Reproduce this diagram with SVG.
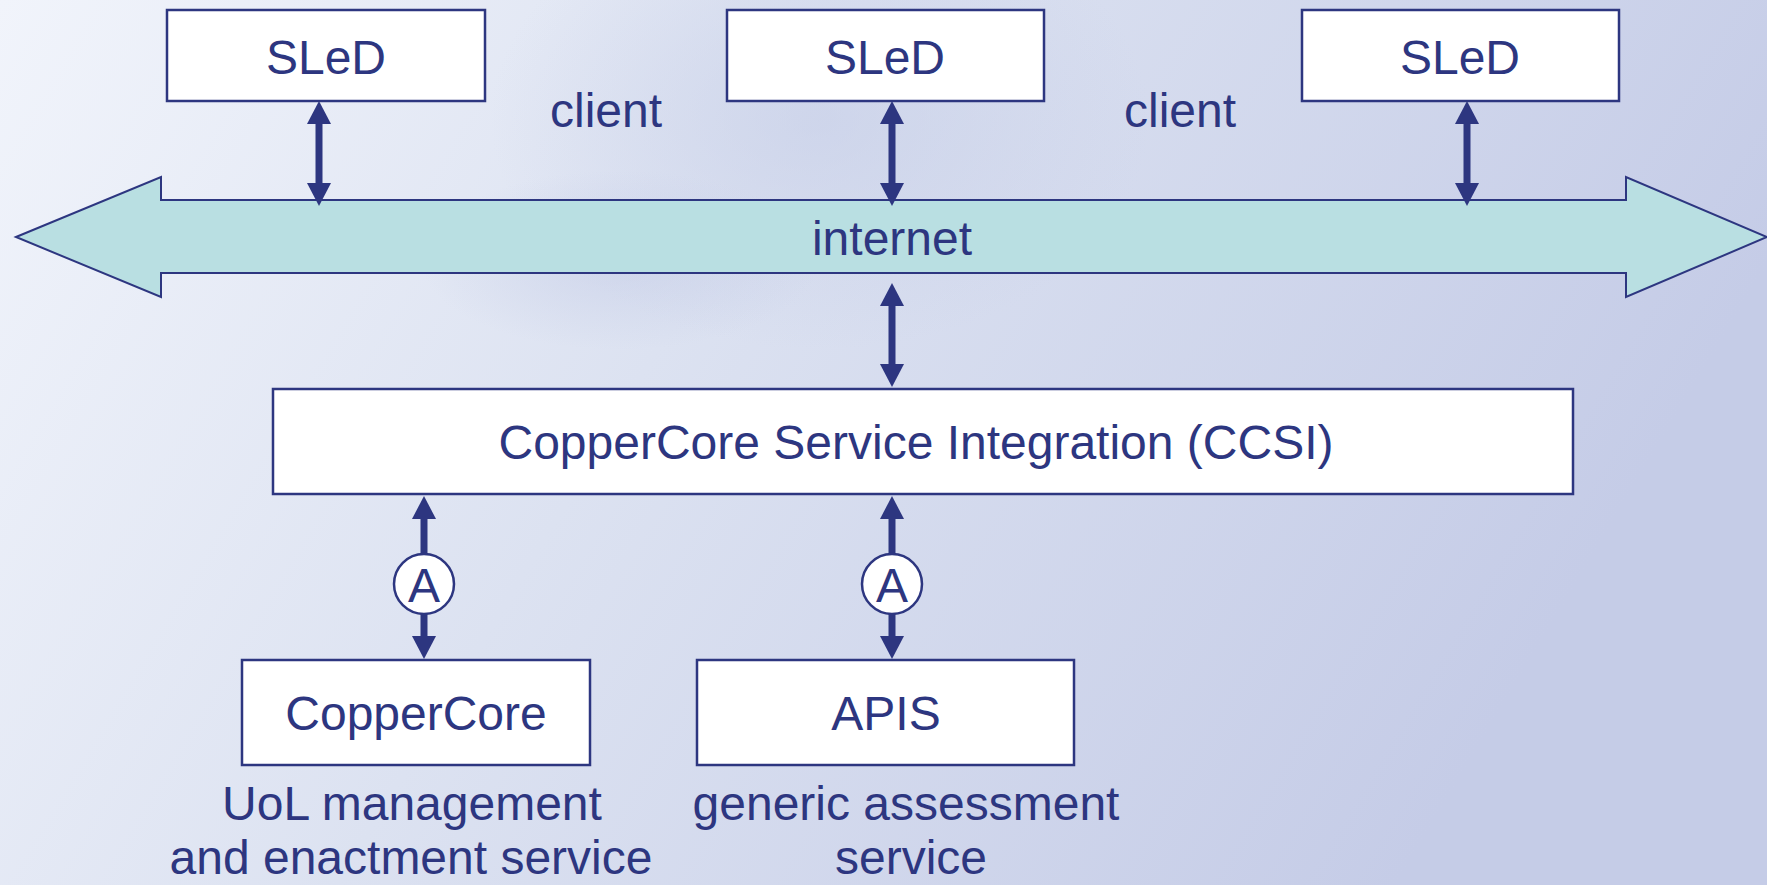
<svg xmlns="http://www.w3.org/2000/svg" width="1767" height="885" viewBox="0 0 1767 885">
<defs>
<linearGradient id="bg" x1="0" y1="0" x2="1" y2="0.3">
<stop offset="0" stop-color="#f1f4fb"/>
<stop offset="0.45" stop-color="#dce2f1"/>
<stop offset="1" stop-color="#c5cce7"/>
</linearGradient>
<radialGradient id="ghost" cx="0.5" cy="0.5" r="0.5">
<stop offset="0" stop-color="#c3cbe6" stop-opacity="0.55"/>
<stop offset="1" stop-color="#c3cbe6" stop-opacity="0"/>
</radialGradient>
<marker id="ah" markerUnits="userSpaceOnUse" markerWidth="24" markerHeight="24" viewBox="0 0 23 24" refX="3" refY="12" orient="auto-start-reverse">
<path d="M0,0 L23,12 L0,24 z" fill="#2d3680"/>
</marker>
</defs>
<style>
.box{fill:#ffffff;stroke:#2d3680;stroke-width:2.5}
.t{font-family:"Liberation Sans",Arial,sans-serif;font-size:48px;fill:#2d3680;text-anchor:middle}
.c{stroke:#2d3680;stroke-width:7;fill:none;marker-start:url(#ah);marker-end:url(#ah)}
.badge{fill:#ffffff;stroke:#2d3680;stroke-width:2.5}
</style>
<rect x="0" y="0" width="1767" height="885" fill="url(#bg)"/>
<ellipse cx="820" cy="120" rx="330" ry="230" fill="url(#ghost)"/>
<ellipse cx="620" cy="260" rx="200" ry="90" fill="url(#ghost)"/>

<g id="internet">
<polygon points="16,237 161,177 161,200 1626,200 1626,177 1767,237 1626,297 1626,273 161,273 161,297" fill="#b9dfe2" stroke="#2d3680" stroke-width="2"/>
<text class="t" x="892" y="255">internet</text>
</g>

<g id="connectors">
<line class="c" x1="319" y1="121" x2="319" y2="186"/>
<line class="c" x1="892" y1="121" x2="892" y2="186"/>
<line class="c" x1="1467" y1="121" x2="1467" y2="186"/>
<line class="c" x1="892" y1="303" x2="892" y2="367"/>
<line class="c" x1="424" y1="516" x2="424" y2="639"/>
<line class="c" x1="892" y1="516" x2="892" y2="639"/>
</g>

<g id="sled1">
<rect class="box" x="167" y="10" width="318" height="91"/>
<text class="t" x="326" y="74">SLeD</text>
</g>
<g id="sled2">
<rect class="box" x="727" y="10" width="317" height="91"/>
<text class="t" x="885" y="74">SLeD</text>
</g>
<g id="sled3">
<rect class="box" x="1302" y="10" width="317" height="91"/>
<text class="t" x="1460" y="74">SLeD</text>
</g>
<g id="client-labels">
<text class="t" x="606" y="127">client</text>
<text class="t" x="1180" y="127">client</text>
</g>

<g id="ccsi">
<rect class="box" x="273" y="389" width="1300" height="105"/>
<text class="t" x="916" y="459">CopperCore Service Integration (CCSI)</text>
</g>

<g id="badge1">
<circle class="badge" cx="424" cy="584" r="30"/>
<text class="t" x="424" y="602">A</text>
</g>
<g id="badge2">
<circle class="badge" cx="892" cy="584" r="30"/>
<text class="t" x="892" y="602">A</text>
</g>

<g id="coppercore">
<rect class="box" x="242" y="660" width="348" height="105"/>
<text class="t" x="416" y="730">CopperCore</text>
<text class="t" x="412" y="820">UoL management</text>
<text class="t" x="411" y="874">and enactment service</text>
</g>
<g id="apis">
<rect class="box" x="697" y="660" width="377" height="105"/>
<text class="t" x="886" y="730">APIS</text>
<text class="t" x="906" y="820">generic assessment</text>
<text class="t" x="911" y="874">service</text>
</g>
</svg>
